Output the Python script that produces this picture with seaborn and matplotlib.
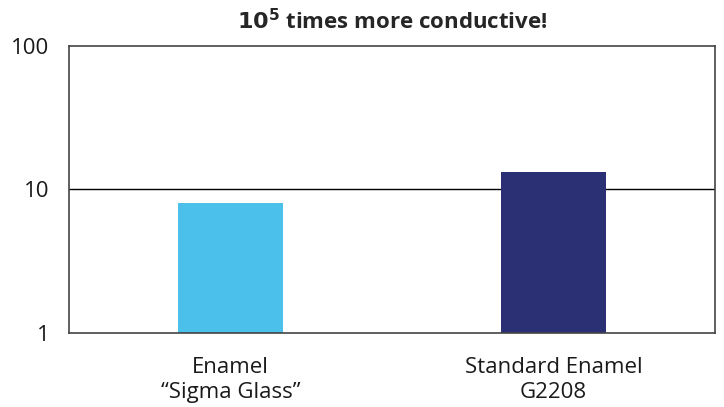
import pandas as pd
import matplotlib
matplotlib.use("Agg")
import matplotlib.pyplot as plt
import matplotlib.ticker as mticker
import seaborn as sns

# values (log axis)
categories = ["Enamel\n\u201cSigma Glass\u201d", "Standard Enamel\nG2208"]
values = [8.0, 13.2]
bar_colors = ["#4BC0EA", "#2B3075"]

df = pd.DataFrame({"cat": categories, "val": values})

sns.set_style("white")
plt.rcParams["font.family"] = ["Open Sans", "DejaVu Sans"]

fig, ax = plt.subplots(figsize=(7.24, 4.07), dpi=100)
sns.barplot(data=df, x="cat", y="val", hue="cat", palette=bar_colors,
            width=0.325, legend=False, ax=ax, saturation=1, linewidth=0)

ax.set_yscale("log")
ax.set_ylim(1, 100)
ax.set_yticks([1, 10, 100])
ax.yaxis.set_major_formatter(mticker.FuncFormatter(lambda v, p: f"{v:g}"))
ax.yaxis.set_minor_locator(mticker.NullLocator())
ax.axhline(10, color="black", lw=1, zorder=0)

ax.set_xlabel("")
ax.set_ylabel("")
ax.tick_params(axis="y", length=0, labelsize=16, colors="#1a1a1a", pad=14)
ax.tick_params(axis="x", length=0, labelsize=16, colors="#1a1a1a", pad=17)
for lbl in ax.get_xticklabels():
    lbl.set_linespacing(1.3)
for s in ax.spines.values():
    s.set_visible(True)
    s.set_color("#444444")
    s.set_linewidth(1.2)

ax.set_title(r"$\mathbf{10^5}$ times more conductive!", fontsize=16,
             fontweight="bold", pad=12)

fig.subplots_adjust(left=0.095, right=0.988, top=0.887, bottom=0.182)
fig.savefig("out.png", dpi=100)
